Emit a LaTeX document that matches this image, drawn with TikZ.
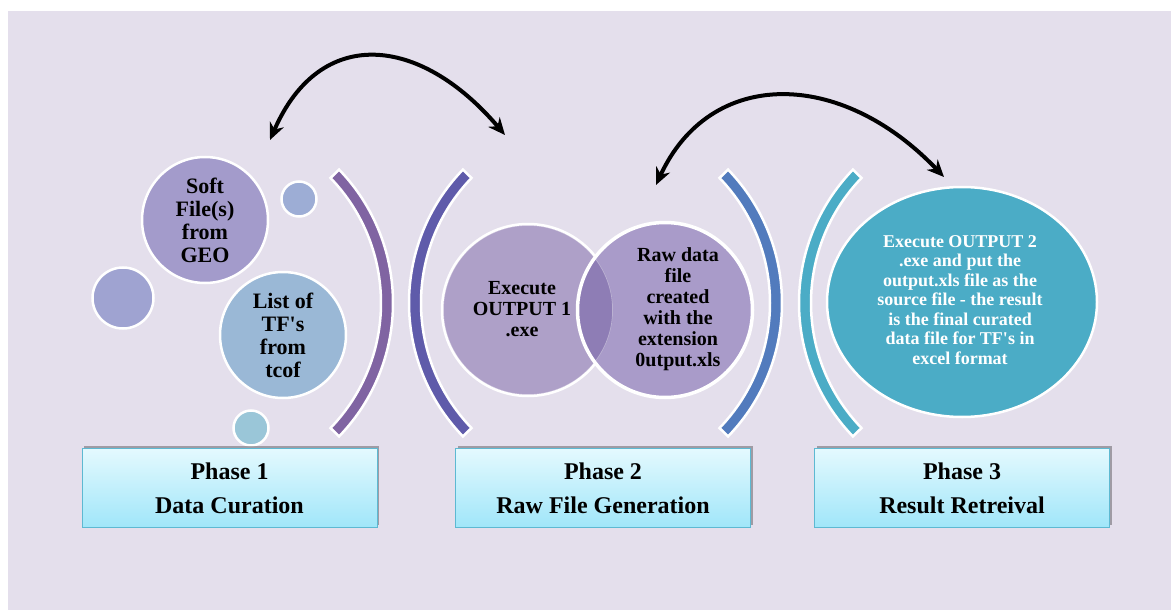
\documentclass[tikz,border=0pt]{standalone}
\usepackage{fontspec}
\setmainfont{Liberation Serif}
\usetikzlibrary{arrows.meta,shapes.geometric,shadows}
\definecolor{bgl}{HTML}{E4DFEC}
\definecolor{softc}{HTML}{A39BCB}\definecolor{dotA}{HTML}{9DADD5}\definecolor{dotB}{HTML}{9FA3D1}
\definecolor{tfc}{HTML}{9AB8D6}\definecolor{dotC}{HTML}{9AC6D8}
\definecolor{bandA}{HTML}{8064A2}\definecolor{bandB}{HTML}{5F5BAA}\definecolor{bandC}{HTML}{527BBD}\definecolor{bandD}{HTML}{4BACC6}
\definecolor{vennL}{HTML}{AEA0C8}\definecolor{vennR}{HTML}{A99BC9}\definecolor{vennM}{HTML}{8E7DB5}
\definecolor{boxtop}{HTML}{E4F9FE}\definecolor{boxbot}{HTML}{A0E6F9}\definecolor{boxrim}{HTML}{5DB9D2}
\tikzset{bub/.style={circle,fill=#1,draw=white,line width=2.5,inner sep=0pt,align=center}}
\tikzset{band/.style={fill=#1,draw=white,line width=2.5}}
\tikzset{phase/.style={draw=boxrim,line width=.8,top color=boxtop,bottom color=boxbot,minimum width=295,minimum height=79,align=center,
  font=\bfseries\fontsize{24}{34}\selectfont,drop shadow={opacity=.3,shadow xshift=2,shadow yshift=-3,fill=black}}}
\tikzset{swap/.style={arrows={Stealth[length=17,width=15]-Stealth[length=17,width=15]},line width=4}}

\begin{document}
\begin{tikzpicture}[x=1pt,y=-1pt]
\useasboundingbox(0,0)rectangle(1171,610);
\fill[white](0,0)rectangle(1171,610);\fill[bgl](8,11)rectangle(1171,610);
% phase 1: bubbles
\node(soft)[bub=softc,minimum size=126,font=\bfseries\fontsize{22}{23}\selectfont]at(205,220){Soft\\File(s)\\from\\GEO};
\node(tf)[bub=tfc,minimum size=126,font=\bfseries\fontsize{22}{23}\selectfont]at(283,335){List of\\TF\textquotesingle s\\from\\tcof};
\node(dota)[bub=dotA,minimum size=35]at(299,199){};
\node(dotb)[bub=dotB,minimum size=61]at(123,298){};
\node(dotc)[bub=dotC,minimum size=35]at(251,428){};
% brackets
\begin{scope}[shift={(201,303)}]\path[band=bandA](-44:180)arc[start angle=-44,end angle=44,radius=180]--(44:192)arc[start angle=44,end angle=-44,radius=192]--cycle;\end{scope}
\begin{scope}[shift={(601,303)}]\path[band=bandB](136:180)arc[start angle=136,end angle=224,radius=180]--(224:192)arc[start angle=224,end angle=136,radius=192]--cycle;\end{scope}
\begin{scope}[shift={(590,303)}]\path[band=bandC](-44:180)arc[start angle=-44,end angle=44,radius=180]--(44:192)arc[start angle=44,end angle=-44,radius=192]--cycle;\end{scope}
\begin{scope}[shift={(991,303)}]\path[band=bandD](136:180)arc[start angle=136,end angle=224,radius=180]--(224:192)arc[start angle=224,end angle=136,radius=192]--cycle;\end{scope}
% phase 2: venn
\node(vl)[bub=vennL,minimum size=172]at(528,310){};
\node(vr)[bub=vennR,minimum size=176]at(665,310){};
\begin{scope}\clip(vl.center)circle[radius=85];\fill[vennM](vr.center)circle[radius=87];\draw[white,opacity=.4,line width=1.5](vl.center)circle[radius=85];\end{scope}
\draw[white,line width=2.5](vr.center)circle[radius=87];
\begin{scope}[font=\bfseries\fontsize{20}{21}\selectfont,align=center]
\node(exe)at(522,309){Execute\\OUTPUT 1\\.exe};
\node(raw)at(678,309){Raw data\\file\\created\\with the\\extension\\0utput.xls};
\end{scope}
% phase 3
\node(res)[ellipse,fill=bandD,draw=white,line width=2.5,minimum width=270,minimum height=230]at(962,302){};
\node(restxt)[text=white,align=center,font=\bfseries\fontsize{18}{19.5}\selectfont]at(960,300){Execute OUTPUT 2\\.exe and put the\\output.xls file as the\\source file - the result\\is the final curated\\data file for TF\textquotesingle s in\\excel format};
% phase boxes
\node(p1)[phase]at(229.5,488){Phase 1\\Data Curation};
\node(p2)[phase]at(603,488){Phase 2\\Raw File Generation};
\node(p3)[phase]at(962,488){Phase 3\\Result Retreival};
% swap arrows
\coordinate(a1s)at(270,140);\coordinate(a1e)at(505,135);
\coordinate(a2s)at(656,185);\coordinate(a2e)at(944,177);
\draw[swap](a1s).. controls(320,25)and(420,35)..(a1e);
\draw[swap](a2s).. controls(710,68)and(840,68)..(a2e);
\end{tikzpicture}
\end{document}
